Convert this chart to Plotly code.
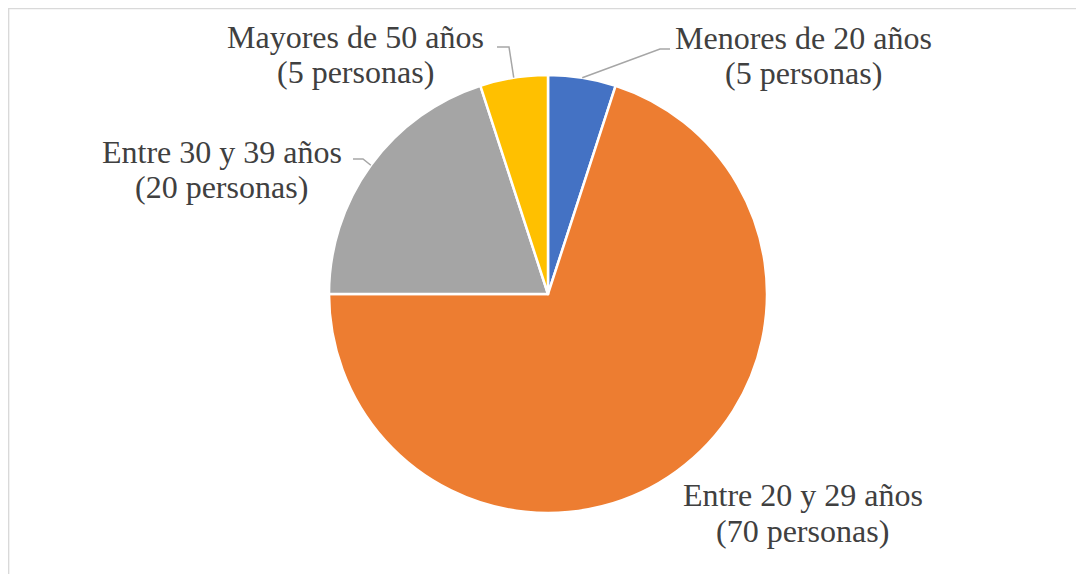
import math
import plotly.graph_objects as go

categories = ["Menores de 20 años", "Entre 20 y 29 años", "Entre 30 y 39 años", "Mayores de 50 años"]
values = [5, 70, 20, 5]
colors = ["#4472C4", "#ED7D31", "#A5A5A5", "#FFC000"]

W, H = 1084, 574
OFF = 8  # page body margin: reference coordinates are window coordinates
CX, CY, R = 548 - OFF, 294 - OFF, 219  # pie centre / radius in figure pixels

fig = go.Figure(go.Pie(
    labels=categories, values=values, sort=False, direction="clockwise", rotation=0,
    marker=dict(colors=colors, line=dict(color="white", width=2.5)),
    textinfo="none", hoverinfo="label+value", showlegend=False,
    domain=dict(x=[(CX - R) / W, (CX + R) / W], y=[(H - CY - R) / H, (H - CY + R) / H]),
))

def px(x):
    return (x - OFF) / W

def py(y):
    return 1 - (y - OFF) / H

# label placement: (centre x, baseline line1, baseline line2) in window pixels
label_pos = [(803, 48.5, 83.5), (802.5, 506, 541.5), (221.5, 162.7, 198.3), (355.5, 48.3, 83.3)]
elbows = [[(660, 49), (670, 49)], None, [(363, 159), (353, 159)], [(509, 47), (497, 47)]]

FS = 32
font = dict(family="Liberation Serif, Times New Roman, serif", size=FS, color="#404040")

total = sum(values)
cum = 0
for i, (cat, v) in enumerate(zip(categories, values)):
    mid = (cum + v / 2) / total * 2 * math.pi
    cum += v
    sx = CX + OFF + R * math.sin(mid)
    sy = CY + OFF - R * math.cos(mid)
    if elbows[i]:
        pts = [(sx, sy)] + elbows[i]
        path = "M " + " L ".join(f"{px(a)},{py(b)}" for a, b in pts)
        fig.add_shape(type="path", path=path, xref="paper", yref="paper",
                      line=dict(color="#A6A6A6", width=1.5))
    lx, b1, b2 = label_pos[i]
    for txt, base in ((cat, b1), (f"({v} personas)", b2)):
        fig.add_annotation(x=px(lx), y=py(base - 0.34 * FS), xref="paper", yref="paper",
                           text=txt, showarrow=False, align="center",
                           xanchor="center", yanchor="middle", font=font)

# chart border
fig.add_shape(type="rect", xref="paper", yref="paper",
              x0=0.6 / W, x1=1 + 10 / W, y0=-10 / H, y1=1 - 0.6 / H,
              line=dict(color="#D9D9D9", width=1.5))

fig.update_layout(width=W, height=H, margin=dict(l=0, r=0, t=0, b=0),
                  paper_bgcolor="white", plot_bgcolor="white")
fig.write_html("out.html")
